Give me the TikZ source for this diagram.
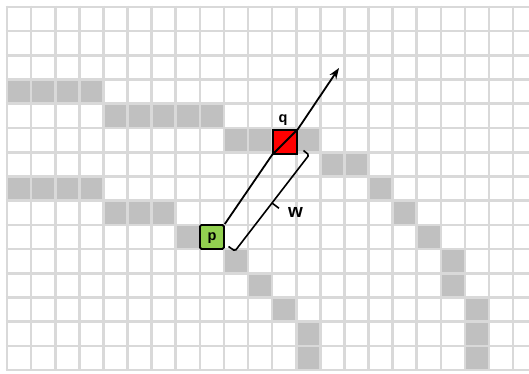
\documentclass[tikz,border=0pt]{standalone}
\usepackage{fontspec}
\setmainfont{Liberation Sans}
\usetikzlibrary{arrows.meta,calc}
\definecolor{gridgray}{HTML}{D9D9D9}
\definecolor{cellgray}{HTML}{C0C0C0}
\definecolor{pgreen}{HTML}{92D050}
\definecolor{qred}{HTML}{FF0000}
\tikzset{
  gridline/.style={draw=gridgray, line width=2.6pt},
  graycell/.style={fill=cellgray},
  pointbox/.style={draw=black, line width=1.8pt, minimum size=24pt, inner sep=0pt, rounded corners=1.5pt},
  mainline/.style={draw=black, line width=1.8pt},
  lbl/.style={font=\fontsize{14.5}{14.5}\selectfont\bfseries, inner sep=0pt},
}
\begin{document}
\begin{tikzpicture}[x=1pt,y=-1pt]
\useasboundingbox (0,0) rectangle (529,374);
\fill[white] (0,0) rectangle (529,374);
% gray cells
\foreach \c/\r in {0/3,1/3,2/3,3/3, 4/4,5/4,6/4,7/4,8/4, 9/5,10/5,11/5,12/5, 13/6,14/6,
  0/7,1/7,2/7,3/7,15/7, 4/8,5/8,6/8,16/8, 7/9,17/9, 9/10,18/10, 10/11,18/11,
  11/12,19/12, 12/13,19/13, 12/14,19/14}
  \fill[graycell] ({7+24.1*\c},{7+24.2*\r}) rectangle ({7+24.1*(\c+1)},{7+24.2*(\r+1)});
% grid
\begin{scope}
\clip (0,0) rectangle (529,374);
\foreach \k in {0,...,15}
  \draw[gridline] (5.7,{7+24.2*\k}) -- (530,{7+24.2*\k});
\foreach \k in {0,...,21}
  \draw[gridline] ({7+24.1*\k},5.7) -- ({7+24.1*\k},371.3);
\end{scope}
% points
\node[pointbox, fill=pgreen] (p) at (211.9,236.9) {};
\node[lbl] (plabel) at (212,238.5) {p};
\node[pointbox, fill=qred, rounded corners=0pt] (q) at (285,142) {};
\node[lbl] (qlabel) at (283,120) {q};
% main line with arrow
\coordinate (tip) at (339,68);
\draw[mainline, -{Stealth[length=11pt,width=8pt]}] (p.north east) -- (q.south west) -- (q.north east) -- (tip);
% width bracket
\coordinate (b1) at (235,251);
\coordinate (b2) at (309,155);
\coordinate (h1) at (228.5,246.5);
\coordinate (h2) at (303.5,150.5);
\draw[mainline, line width=1.6pt, rounded corners=1.5pt] (h1) -- (b1) -- (b2) -- (h2);
\coordinate (ta) at ($(b1)!0.5!(b2)$);
\coordinate (tb) at ($(ta)+(7,5.3)$);
\draw[mainline, line width=1.6pt] (ta) -- (tb);
\node[font=\fontsize{19}{19}\selectfont\bfseries, inner sep=0pt] (wlabel) at (295.5,212) {w};
\end{tikzpicture}
\end{document}
